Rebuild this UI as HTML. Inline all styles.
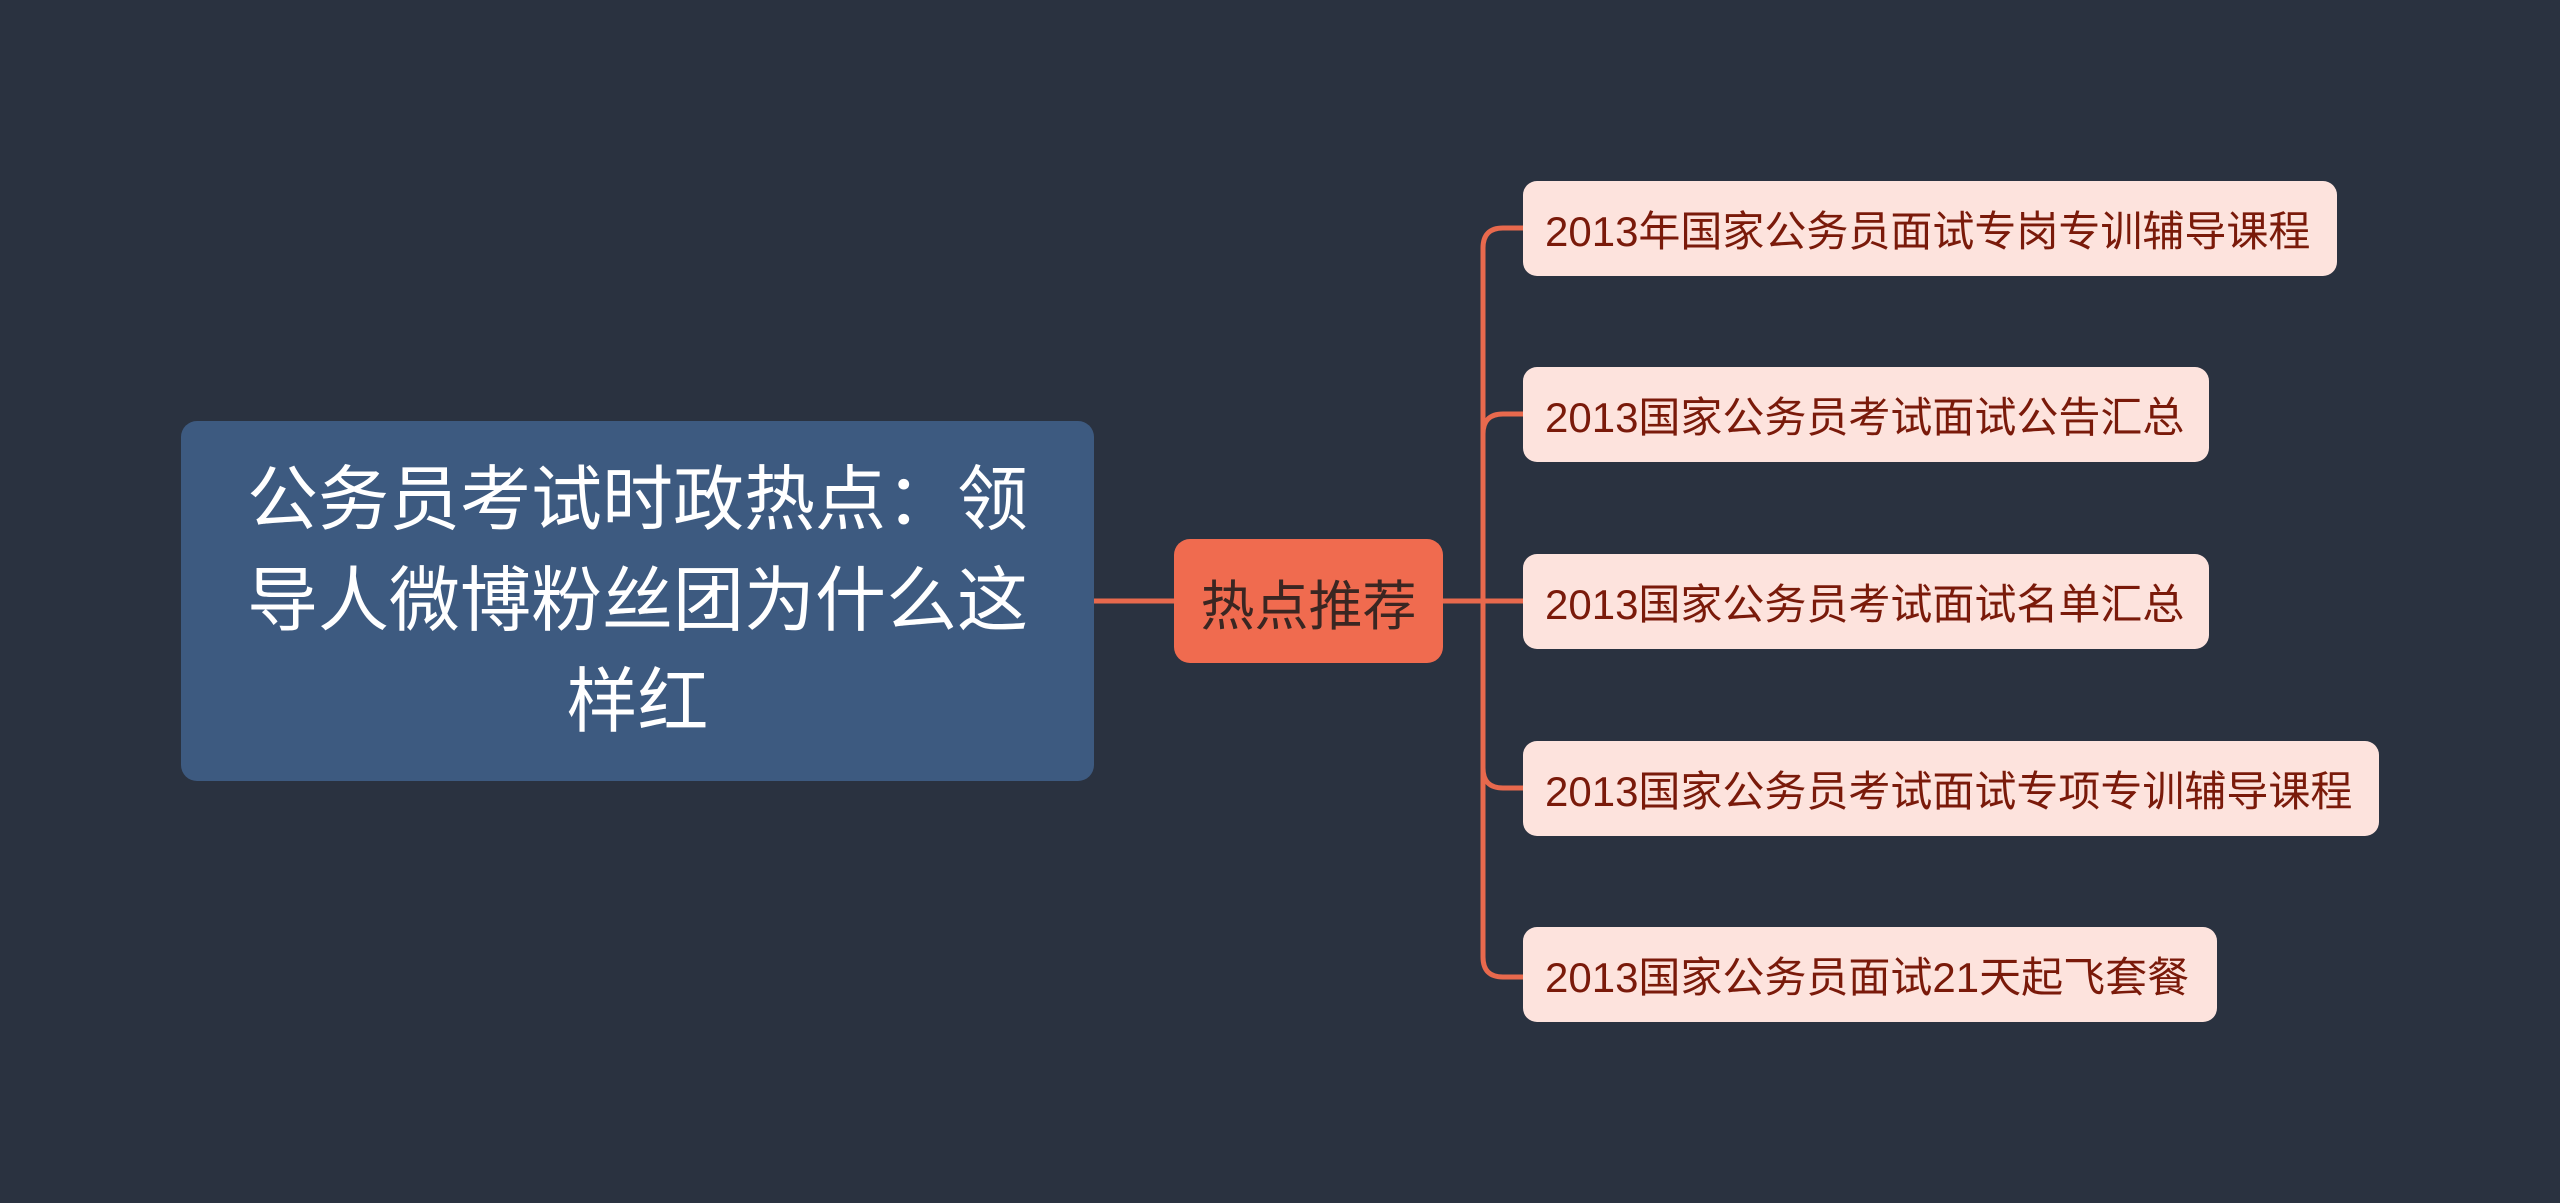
<!DOCTYPE html>
<html><head><meta charset="utf-8"><style>
html,body{margin:0;padding:0}
body{width:2560px;height:1203px;background:#2a3240;position:relative;overflow:hidden;font-family:"Liberation Sans","Noto Sans CJK SC",sans-serif}
.n{position:absolute;box-sizing:border-box;display:flex;align-items:center;justify-content:center;text-align:center}
.root{left:181px;top:421px;width:913px;height:360px;background:#3d5a80;border-radius:16px;color:#fff;font-size:71px;line-height:101px;padding:0 50px}
.mid{left:1174px;top:539px;width:269px;height:124px;background:#f06b4f;border-radius:16px;color:#3a2622;font-size:54px}
.leaf{left:1523px;height:95px;background:#fde3dd;border-radius:14px;color:#7a1a0a;font-size:42px;justify-content:flex-start;padding-left:22px;white-space:nowrap}
</style></head><body>
<svg width="2560" height="1203" style="position:absolute;left:0;top:0">
<g stroke="#e8694d" stroke-width="5" fill="none">
<line x1="1094" y1="601" x2="1174" y2="601"/>
<line x1="1443" y1="601" x2="1523" y2="601"/>
<path d="M1523 228 H1503 Q1483 228 1483 248 V957 Q1483 977 1503 977 H1523"/>
<path d="M1523 414 H1503 Q1483 414 1483 434"/>
<path d="M1523 788 H1503 Q1483 788 1483 768"/>
</g></svg>
<div class="n root">公务员考试时政热点：领导人微博粉丝团为什么这样红</div>
<div class="n mid">热点推荐</div>
<div class="n leaf" style="top:181px;width:814px">2013年国家公务员面试专岗专训辅导课程</div>
<div class="n leaf" style="top:367px;width:686px">2013国家公务员考试面试公告汇总</div>
<div class="n leaf" style="top:554px;width:686px">2013国家公务员考试面试名单汇总</div>
<div class="n leaf" style="top:741px;width:856px">2013国家公务员考试面试专项专训辅导课程</div>
<div class="n leaf" style="top:927px;width:694px">2013国家公务员面试21天起飞套餐</div>
</body></html>
